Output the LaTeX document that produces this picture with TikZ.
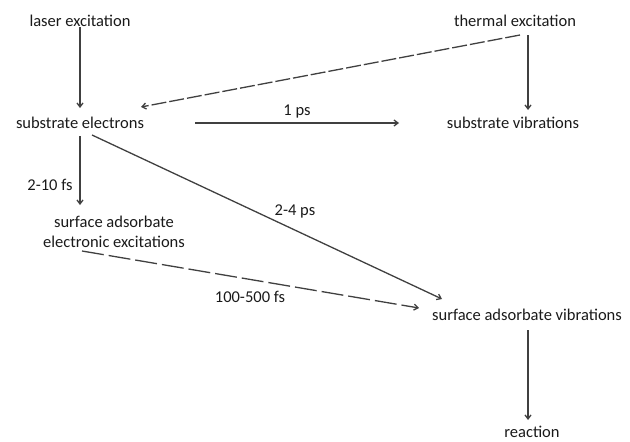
\documentclass[tikz,border=0pt]{standalone}
\usepackage{fontspec}
\setmainfont{Carlito}
\usetikzlibrary{arrows.meta}
\definecolor{ln}{HTML}{404040}
\definecolor{tx}{HTML}{1A1A1A}
\begin{document}
\begin{tikzpicture}[x=1pt,y=-1pt,
  lbl/.style={font=\fontsize{16.5}{19}\selectfont, text=tx, inner sep=1pt, align=center},
  arr/.style={draw=ln, line width=1.3pt, -{Straight Barb[length=4pt,width=6pt]}},
  dashA/.style={dash pattern=on 15pt off 3pt},
  dashC/.style={dash pattern=on 22pt off 5pt}]
\useasboundingbox (0,0) rectangle (630,442);
\node[lbl] (laser) at (80,21) {laser excitation};
\node[lbl] (therm) at (515,21) {thermal excitation};
\node[lbl] (se) at (80,123) {substrate electrons};
\node[lbl] (sv) at (513,123) {substrate vibrations};
\node[lbl, font=\fontsize{16.5}{20}\selectfont] (sae) at (114,232) {surface adsorbate\\electronic excitations};
\node[lbl] (sav) at (527,315) {surface adsorbate vibrations};
\node[lbl] (rx) at (532,432) {reaction};
\coordinate (a2) at (80,108);
\draw[arr] (laser.south) ++(0,-1) -- (a2);
\coordinate (t1) at (520,35);
\coordinate (t2) at (141,107);
\draw[arr, dashA] (t1) -- (t2);
\coordinate (t3) at (528,35);
\coordinate (t4) at (528,110);
\draw[arr] (t3) -- (t4);
\coordinate (s1) at (195,123);
\coordinate (s2) at (399,123);
\draw[arr] (s1) -- node[lbl, above=3pt] (l1) {1 ps} (s2);
\coordinate (d1) at (80,136);
\coordinate (d2) at (80,205);
\draw[arr] (d1) -- (d2);
\node[lbl] (l2) at (50,185) {2-10 fs};
\coordinate (e1) at (92,135);
\coordinate (e2) at (442,299);
\draw[arr] (e1) -- (e2);
\node[lbl] (l3) at (295,211) {2-4 ps};
\coordinate (f1) at (82,251);
\coordinate (f2) at (419,308);
\draw[arr, dashC] (f1) -- (f2);
\node[lbl] (l4) at (250,297) {100-500 fs};
\coordinate (g1) at (528,330);
\coordinate (g2) at (528,420);
\draw[arr] (g1) -- (g2);
\end{tikzpicture}
\end{document}
